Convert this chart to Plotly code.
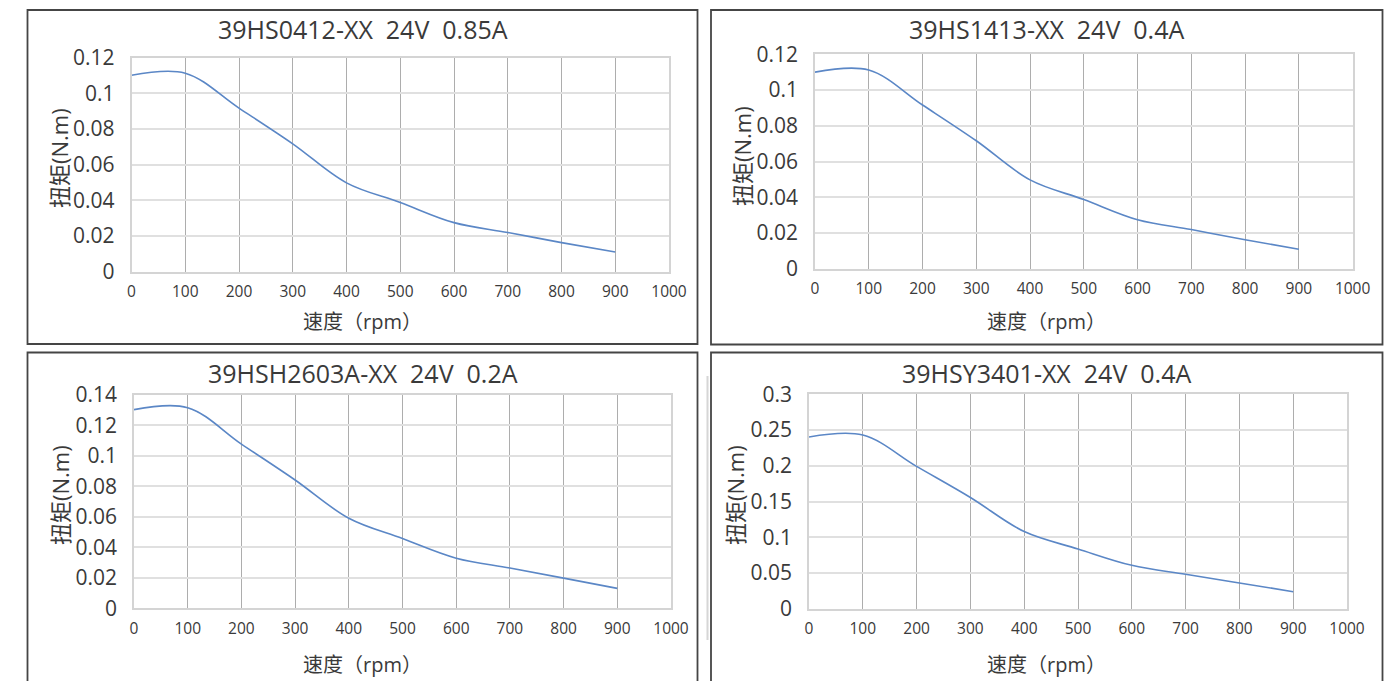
import plotly.graph_objects as go

W, H = 1393, 681

# ---------------- data ----------------
speed_rpm = [0, 100, 200, 300, 400, 500, 600, 700, 800, 900]

torque_39HS0412 = [0.1100, 0.1112, 0.0916, 0.0716, 0.0497, 0.0387, 0.0274, 0.0219, 0.0162, 0.0109]
torque_39HS1413 = [0.1100, 0.1112, 0.0916, 0.0716, 0.0497, 0.0387, 0.0274, 0.0219, 0.0162, 0.0109]
torque_39HSH2603A = [0.1304, 0.1317, 0.1078, 0.0842, 0.0591, 0.0458, 0.0329, 0.0264, 0.0198, 0.0131]
torque_39HSY3401 = [0.2402, 0.2430, 0.1991, 0.1556, 0.1079, 0.0836, 0.0607, 0.0481, 0.0360, 0.0238]

titles = ["39HS0412-XX  24V  0.85A", "39HS1413-XX  24V  0.4A",
          "39HSH2603A-XX  24V  0.2A", "39HSY3401-XX  24V  0.4A"]

x_tickvals = [0, 100, 200, 300, 400, 500, 600, 700, 800, 900, 1000]
x_ticktext = ["0", "100", "200", "300", "400", "500", "600", "700", "800", "900", "1000"]

y_ticks_012 = [0, 0.02, 0.04, 0.06, 0.08, 0.1, 0.12]
y_text_012 = ["0", "0.02", "0.04", "0.06", "0.08", "0.1", "0.12"]
y_ticks_014 = [0, 0.02, 0.04, 0.06, 0.08, 0.1, 0.12, 0.14]
y_text_014 = ["0", "0.02", "0.04", "0.06", "0.08", "0.1", "0.12", "0.14"]
y_ticks_03 = [0, 0.05, 0.1, 0.15, 0.2, 0.25, 0.3]
y_text_03 = ["0", "0.05", "0.1", "0.15", "0.2", "0.25", "0.3"]

x_title = "速度（rpm）"
y_title = "扭矩(N.m)"

def fx(p):
    return p / W

def fy(p):
    return 1 - p / H

panels = [
    dict(series=torque_39HS0412, ymax=0.12, tv=y_ticks_012, tt=y_text_012,
         px=(131.5, 669), py=(57.5, 271.5), box=(27.5, 697.5, 10, 344),
         ty=29, xty=321, ytx=59, yty=158),
    dict(series=torque_39HS1413, ymax=0.12, tv=y_ticks_012, tt=y_text_012,
         px=(815, 1352.6), py=(54.3, 268.7), box=(711, 1382.5, 10, 344.5),
         ty=29, xty=321, ytx=742, yty=156),
    dict(series=torque_39HSH2603A, ymax=0.14, tv=y_ticks_014, tt=y_text_014,
         px=(134, 671), py=(395, 608.3), box=(27.5, 697.5, 352.5, None),
         ty=373, xty=664, ytx=60, yty=495),
    dict(series=torque_39HSY3401, ymax=0.3, tv=y_ticks_03, tt=y_text_03,
         px=(809, 1347), py=(394.3, 608.7), box=(711, 1382.5, 352.5, None),
         ty=372.5, xty=664, ytx=735, yty=495),
]

FONT = "Open Sans, Noto Sans CJK SC, sans-serif"
TXT = "#3a3a3a"
BORDER = dict(color="#454545", width=1.8)

fig = go.Figure()
layout = dict(
    width=W, height=H, margin=dict(l=0, r=0, t=0, b=0, pad=0), autosize=False,
    paper_bgcolor="white", plot_bgcolor="white", showlegend=False,
    font=dict(family=FONT, color=TXT),
)
shapes = []
annotations = []

for i, p in enumerate(panels):
    n = "" if i == 0 else str(i + 1)
    fig.add_trace(go.Scatter(
        x=speed_rpm, y=p["series"], mode="lines",
        line=dict(color="#5b87c6", width=1.6, shape="spline", smoothing=1.0),
        xaxis="x" + n, yaxis="y" + n, hoverinfo="x+y",
    ))
    layout["xaxis" + n] = dict(
        domain=[fx(p["px"][0]), fx(p["px"][1])], anchor="y" + n, automargin=False,
        range=[0, 1000], tickmode="array", tickvals=x_tickvals, ticktext=x_ticktext,
        showgrid=True, gridcolor="#adadad", gridwidth=1.2,
        showline=True, linecolor="#d4d4d4", linewidth=1.5, mirror=True,
        zeroline=False, ticks="outside", ticklen=5, tickcolor="rgba(0,0,0,0)",
        tickfont=dict(size=15.5, color=TXT, family=FONT),
        fixedrange=True,
    )
    layout["yaxis" + n] = dict(
        domain=[fy(p["py"][1]), fy(p["py"][0])], anchor="x" + n, automargin=False,
        range=[0, p["ymax"]], tickmode="array", tickvals=p["tv"], ticktext=p["tt"],
        showgrid=True, gridcolor="#e0e0e0", gridwidth=1.5,
        showline=True, linecolor="#d4d4d4", linewidth=1.5, mirror=True,
        zeroline=False, ticks="outside", ticklen=11, tickcolor="rgba(0,0,0,0)",
        tickfont=dict(size=21, color=TXT, family=FONT),
        fixedrange=True,
    )
    bx0, bx1, by0, by1 = p["box"]
    if by1 is not None:
        shapes.append(dict(type="rect", xref="paper", yref="paper",
                           x0=fx(bx0), x1=fx(bx1), y0=fy(by1), y1=fy(by0),
                           line=BORDER, fillcolor="rgba(0,0,0,0)"))
    else:
        # lower boxes run off the bottom of the picture: top and sides only
        shapes.append(dict(type="path", xref="paper", yref="paper",
                           path=f"M {fx(bx0)} 0 L {fx(bx0)} {fy(by0)} L {fx(bx1)} {fy(by0)} L {fx(bx1)} 0",
                           line=BORDER))
    cx = fx((bx0 + bx1) / 2)
    annotations.append(dict(text=titles[i], xref="paper", yref="paper", x=cx, y=fy(p["ty"]),
                            xanchor="center", yanchor="middle", showarrow=False,
                            font=dict(size=25, color=TXT, family=FONT)))
    annotations.append(dict(text=x_title, xref="paper", yref="paper", x=cx, y=fy(p["xty"]),
                            xanchor="center", yanchor="middle", showarrow=False,
                            font=dict(size=20, color=TXT, family=FONT)))
    annotations.append(dict(text=y_title, xref="paper", yref="paper", x=fx(p["ytx"]), y=fy(p["yty"]),
                            xanchor="center", yanchor="middle", showarrow=False, textangle=-90,
                            font=dict(size=22, color=TXT, family=FONT)))

# faint scan artefact line between the lower panels
shapes.append(dict(type="line", xref="paper", yref="paper",
                   x0=fx(707.5), x1=fx(707.5), y0=fy(640), y1=fy(376),
                   line=dict(color="#d6d6d6", width=2)))

layout["shapes"] = shapes
layout["annotations"] = annotations
fig.update_layout(**layout)

page_fix = ("document.documentElement.style.margin='0';document.documentElement.style.padding='0';"
            "document.documentElement.style.overflow='hidden';"
            "document.body.style.margin='0';document.body.style.padding='0';"
            "document.body.style.overflow='hidden';")
fig.write_html("out.html", config={"displayModeBar": False}, post_script=page_fix)
